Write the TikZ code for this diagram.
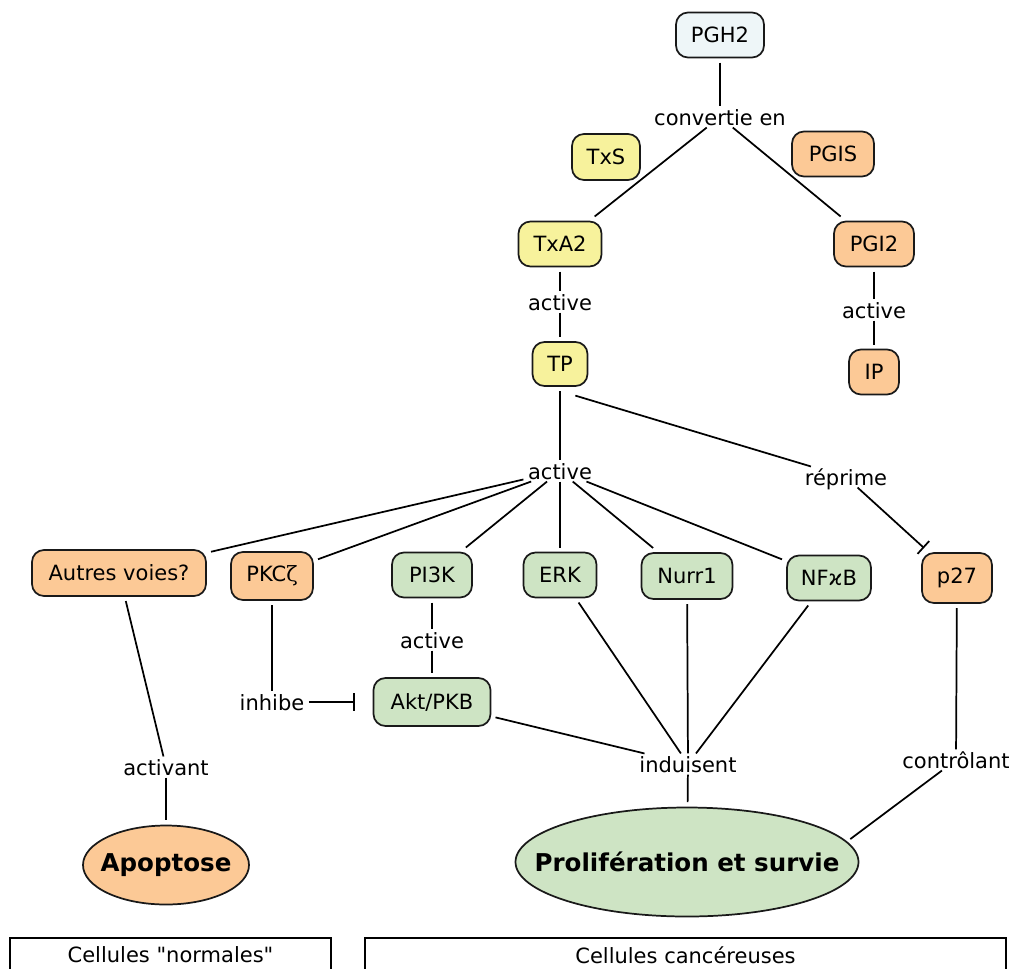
\documentclass[tikz,border=0pt]{standalone}
\usepackage{fontspec}
\setmainfont{DejaVu Sans}
\newfontfamily\plainfont[Ligatures=TeXOff]{DejaVu Sans}
\newfontfamily\greekserif{DejaVu Serif}
\usetikzlibrary{shapes.geometric,arrows.meta}
\definecolor{cblue}{RGB}{238,246,248}
\definecolor{cyellow}{RGB}{247,242,156}
\definecolor{corange}{RGB}{252,201,150}
\definecolor{cgreen}{RGB}{206,228,196}
\begin{document}
\begin{tikzpicture}[x=0.75pt,y=-0.75pt,
  every node/.style={font=\fontsize{15.75}{19}\selectfont},
  concept/.style={draw=black!90, line width=1.3pt, rounded corners=9pt,
    minimum height=33.75pt, inner sep=2pt, outer sep=3.75pt},
  bluebox/.style={concept, fill=cblue},
  yellowbox/.style={concept, fill=cyellow},
  orangebox/.style={concept, fill=corange},
  greenbox/.style={concept, fill=cgreen},
  link/.style={inner xsep=3.5pt, inner ysep=1.9pt, text height=1.2em,
    text depth=0em, outer sep=0pt},
  conn/.style={line width=1.3pt},
  inhib/.style={conn, -{Bar[width=13pt,line width=1.3pt]}},
  outcome/.style={ellipse, draw=black!90, line width=1.3pt, inner sep=0pt,
    outer sep=4pt, font=\fontsize{18.4}{22}\selectfont\bfseries},
  panel/.style={draw, line width=1.1pt, minimum height=25.5pt,
    font=\fontsize{15.75}{19}\plainfont}
]
\useasboundingbox (0,0) rectangle (1013,968);

% concepts
\node[bluebox, minimum width=66pt] (pgh2) at (720,35) {PGH2};
\node[link] (conv) at (720,117) {convertie en};
\node[yellowbox, minimum width=51pt, minimum height=34.5pt] (txs) at (606,157) {TxS};
\node[orangebox, minimum width=61.5pt] (pgis) at (833,154) {PGIS};
\node[yellowbox, minimum width=62.25pt] (txa2) at (560,244) {TxA2};
\node[orangebox, minimum width=60pt] (pgi2) at (874,244) {PGI2};
\node[link] (act1) at (560,302) {active};
\node[link] (act2) at (874,310) {active};
\node[yellowbox, minimum width=41.25pt, minimum height=33pt] (tp) at (560,364) {TP};
\node[orangebox, minimum width=37.5pt] (ip) at (874,372) {IP};
\node[link] (act3) at (560,471) {active};
\node[link] (rep) at (846,477) {réprime};
\node[orangebox, minimum width=130.5pt, minimum height=34.5pt] (autres) at (119,573) {Autres voies?};
\node[orangebox, minimum width=61.5pt, minimum height=36pt] (pkc) at (272,576) {PKC{\greekserif ζ}};
\node[greenbox, minimum width=60pt] (pi3k) at (432,575) {PI3K};
\node[greenbox, minimum width=54.75pt] (erk) at (560,575) {ERK};
\node[greenbox, minimum width=68.25pt, minimum height=34.5pt] (nurr) at (687,576) {Nurr1};
\node[greenbox, minimum width=63pt] (nfkb) at (829,578) {NFϰB};
\node[orangebox, minimum width=52.5pt, minimum height=37.5pt] (p27) at (957,578) {p27};
\node[link] (act4) at (432,640) {active};
\node[greenbox, minimum width=87.75pt, minimum height=36pt] (akt) at (432,702) {Akt/PKB};
\node[link] (inh) at (272,702) {inhibe};
\node[link] (actv) at (166,767) {activant};
\node[link] (ind) at (688,764) {induisent};
\node[link] (ctl) at (956,760) {contrôlant};
\node[outcome, fill=corange, minimum width=124.5pt, minimum height=59.25pt]
  (apop) at (166,865) {\makebox[0pt]{Apoptose}};
\node[outcome, fill=cgreen, minimum width=257.25pt, minimum height=81.75pt]
  (prolif) at (687,862) {\makebox[0pt]{Prolifération et survie}};

% cell-type panels
\node[panel, minimum width=240.75pt] (normal) at (170.5,955) {Cellules "normales"};
\node[panel, minimum width=480.75pt] (cancer) at (685.5,955) {Cellules cancéreuses};

% links
\draw[conn] (pgh2) -- (conv);
\draw[conn] (conv) -- (txa2);
\draw[conn] (conv) -- (pgi2);
\draw[conn] (txa2) -- (act1);
\draw[conn] (act1) -- (tp);
\draw[conn] (pgi2) -- (act2);
\draw[conn] (act2) -- (ip);
\draw[conn] (tp) -- (act3);
\draw[conn, shorten <=12pt] (tp.south) -- (rep);
\draw[inhib] (rep) -- (p27);
\draw[conn] (act3) -- (autres);
\draw[conn] (act3) -- (pkc);
\draw[conn] (act3) -- (pi3k);
\draw[conn] (act3) -- (erk);
\draw[conn] (act3) -- (nurr);
\draw[conn] (act3) -- (nfkb);
\draw[conn] (pi3k) -- (act4);
\draw[conn] (act4) -- (akt);
\draw[conn] (pkc) -- (inh);
\draw[inhib, shorten >=10pt] (inh) -- (akt);
\draw[conn] (autres) -- (actv);
\draw[conn] (actv) -- (apop);
\draw[conn] (akt) -- (ind);
\draw[conn] (erk) -- (ind);
\draw[conn] (nurr) -- (ind);
\draw[conn] (nfkb) -- (ind);
\draw[conn] (ind) -- (prolif);
\draw[conn] (p27) -- (ctl);
\draw[conn] (ctl) -- (prolif.8);
\end{tikzpicture}
\end{document}
